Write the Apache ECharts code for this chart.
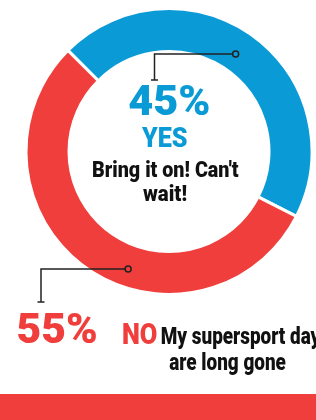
<!DOCTYPE html>
<html>
<head>
<meta charset="utf-8">
<script src="https://cdn.jsdelivr.net/npm/echarts@6/dist/echarts.min.js"></script>
<style>
  html, body { margin: 0; padding: 0; background: #fff; }
  #chart { width: 316px; height: 420px; }
</style>
</head>
<body>
<div id="chart"></div>
<script>
// data
const categories = ['YES', 'NO'];
const values = [45, 55];
const percentLabels = ['45%', '55%'];
const descriptions = ["Bring it on! Can't\nwait!", 'My supersport days\nare long gone'];
const colors = ['#0a9bd7', '#ef3e3b'];

const FONT = "Roboto, 'Open Sans', sans-serif";
const cx = 169, cy = 151.5;
const startAngle = 135; // degrees, ccw from 3 o'clock

const chart = echarts.init(document.getElementById('chart'));

// angle (clockwise from 12 o'clock) at a fraction through slice i
function sliceAngle(i, frac) {
  const total = values.reduce((a, b) => a + b, 0);
  let before = 0;
  for (let k = 0; k < i; k++) before += values[k];
  const start = 90 - startAngle;
  return start + (before + values[i] * frac) / total * 360;
}
function pointAt(angDeg, r) {
  const a = angDeg * Math.PI / 180;
  return [cx + Math.sin(a) * r, cy - Math.cos(a) * r];
}

// leader line: dot on the ring -> horizontal -> down to a small tick
function leader(i, frac, r, cornerX, endY) {
  const p = pointAt(sliceAngle(i, frac), r);
  const lineStyle = { stroke: '#222', lineWidth: 1.5, fill: null };
  return [
    { type: 'polyline', shape: { points: [p, [cornerX, p[1]], [cornerX, endY]] }, style: lineStyle, z: 10 },
    { type: 'line', shape: { x1: cornerX - 3.5, y1: endY, x2: cornerX + 3.5, y2: endY }, style: lineStyle, z: 10 },
    { type: 'circle', shape: { cx: p[0], cy: p[1], r: 3 }, style: { fill: colors[i], stroke: '#222', lineWidth: 1.5 }, z: 11 }
  ];
}

// condensed look: squeeze the text horizontally to the wanted ink width
const measureCtx = document.createElement('canvas').getContext('2d');
function inkWidth(text, font) {
  measureCtx.font = font;
  const m = measureCtx.measureText(text);
  return m.actualBoundingBoxLeft + m.actualBoundingBoxRight;
}
function txt(text, x, y, size, fill, align, width, scale) {
  const font = '900 ' + size + 'px ' + FONT;
  const sx = scale || (width ? width / inkWidth(text, font) : 1);
  return {
    type: 'text', z: 12, x: x, y: y, scaleX: sx,
    style: { text: text, x: 0, y: 0, fill: fill, align: align || 'center', verticalAlign: 'middle', font: font }
  };
}

const yesLines = descriptions[0].split('\n');
const noLines = descriptions[1].split('\n');
const noScale = 117 / inkWidth(noLines[1], '900 23px ' + FONT);

chart.setOption({
  animation: false,
  series: [{
    type: 'pie',
    center: [cx, cy],
    radius: [100, 143],
    startAngle: startAngle,
    clockwise: true,
    silent: true,
    label: { show: false },
    labelLine: { show: false },
    itemStyle: { borderColor: '#fff', borderWidth: 3 },
    data: categories.map((c, i) => ({ name: c, value: values[i], itemStyle: { color: colors[i] } }))
  }],
  graphic: [
    { type: 'rect', shape: { x: 0, y: 394, width: 316, height: 26 }, style: { fill: colors[1] } },
    ...leader(0, 0.49, 118, 154.5, 80),
    ...leader(1, 0.415, 124.5, 41, 302),
    txt(percentLabels[0], 169.3, 104.6, 42, colors[0], 'center', 80),
    txt(categories[0], 164.7, 140.2, 28, colors[0], 'center', 46),
    txt(yesLines[0], 165.3, 171.9, 22, '#111', 'center', 146),
    txt(yesLines[1], 165, 195.9, 22, '#111', 'center', 44),
    txt(percentLabels[1], 57, 332, 42, colors[1], 'center', 79),
    txt(categories[1], 139.7, 336, 30, colors[1], 'center', 34),
    txt(noLines[0], 160.7, 338.7, 23, '#111', 'left', null, noScale),
    txt(noLines[1], 169.3, 364.5, 23, '#111', 'left', null, noScale)
  ]
});
</script>
</body>
</html>
